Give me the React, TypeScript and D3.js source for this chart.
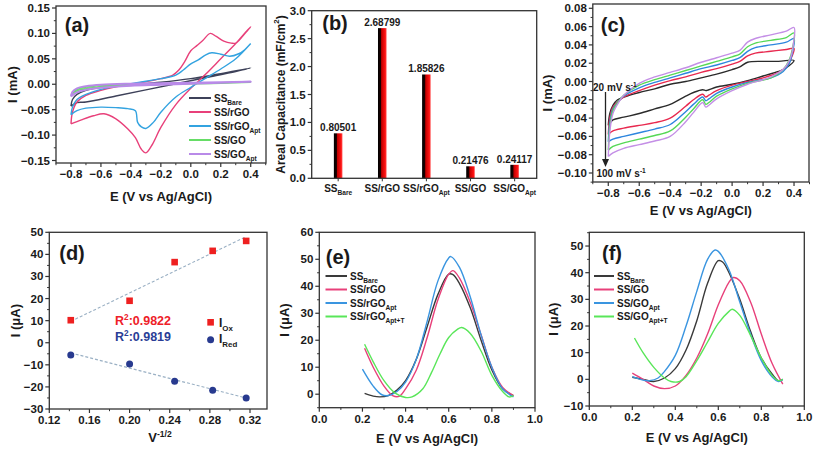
import React from "react";
import * as d3 from "d3";

type Pt = [number, number];
const FONT = "'Liberation Sans', Arial, Helvetica, sans-serif";
const INK = "#1a1a1a";
const BOX = "#333";

// ---------------- Panel (a) : CV of the five electrodes ----------------
const aSeries = ["SS_Bare", "SS/rGO", "SS/rGO_Apt", "SS/GO", "SS/GO_Apt"];
const aColors = ["#3d4159", "#e8407a", "#33a3e0", "#66dd66", "#b98ae8"];
const aBare: Pt[] = [[-0.8,-0.043],[-0.79,-0.03],[-0.76,-0.02],[-0.7,-0.012],[-0.6,-0.006],[-0.4,-0.001],[-0.2,0.004],[0.0,0.011],[0.2,0.021],[0.4,0.032],[0.3,0.025],[0.1,0.013],[-0.1,0.001],[-0.3,-0.011],[-0.5,-0.023],[-0.7,-0.035],[-0.76,-0.036],[-0.8,-0.043]];
const aRGO: Pt[] = [[-0.8,-0.078],[-0.79,-0.055],[-0.76,-0.035],[-0.7,-0.022],[-0.6,-0.012],[-0.5,-0.005],[-0.4,0.0],[-0.3,0.005],[-0.2,0.011],[-0.12,0.018],[-0.08,0.028],[-0.04,0.045],[0.0,0.066],[0.04,0.076],[0.08,0.086],[0.13,0.1],[0.17,0.094],[0.22,0.085],[0.27,0.081],[0.3,0.081],[0.35,0.096],[0.4,0.113],[0.35,0.097],[0.3,0.08],[0.2,0.05],[0.1,0.02],[0.0,-0.008],[-0.1,-0.04],[-0.2,-0.085],[-0.26,-0.12],[-0.3,-0.135],[-0.33,-0.128],[-0.37,-0.105],[-0.42,-0.088],[-0.5,-0.068],[-0.58,-0.058],[-0.65,-0.062],[-0.73,-0.07],[-0.8,-0.078]];
const aRGOApt: Pt[] = [[-0.8,-0.06],[-0.79,-0.045],[-0.76,-0.03],[-0.7,-0.02],[-0.6,-0.01],[-0.5,-0.004],[-0.4,0.001],[-0.3,0.006],[-0.2,0.011],[-0.1,0.018],[-0.05,0.028],[0.0,0.04],[0.05,0.048],[0.1,0.058],[0.14,0.062],[0.2,0.059],[0.26,0.055],[0.32,0.06],[0.36,0.068],[0.4,0.08],[0.3,0.05],[0.2,0.03],[0.1,0.012],[0.0,-0.006],[-0.1,-0.025],[-0.2,-0.055],[-0.25,-0.075],[-0.3,-0.087],[-0.33,-0.084],[-0.355,-0.075],[-0.37,-0.052],[-0.42,-0.048],[-0.5,-0.046],[-0.6,-0.045],[-0.7,-0.047],[-0.76,-0.052],[-0.8,-0.06]];
const aGO: Pt[] = [[-0.8,-0.022],[-0.78,-0.016],[-0.74,-0.011],[-0.65,-0.007],[-0.5,-0.004],[-0.3,-0.001],[0.0,0.001],[0.2,0.002],[0.4,0.004],[0.2,0.003],[0.0,0.002],[-0.3,0.0],[-0.5,-0.002],[-0.65,-0.004],[-0.74,-0.008],[-0.78,-0.013],[-0.8,-0.022]];
const aGOApt: Pt[] = [[-0.8,-0.024],[-0.79,-0.015],[-0.76,-0.008],[-0.7,-0.004],[-0.6,-0.001],[-0.4,0.001],[-0.2,0.002],[0.0,0.003],[0.2,0.004],[0.4,0.005],[0.2,0.003],[0.0,0.001],[-0.2,-0.001],[-0.4,-0.003],[-0.6,-0.007],[-0.7,-0.011],[-0.76,-0.016],[-0.8,-0.024]];
const aCurves = [aBare, aRGO, aRGOApt, aGO, aGOApt];
const aXTicks = [-0.8, -0.6, -0.4, -0.2, 0.0, 0.2, 0.4];
const aYTicks = [-0.15, -0.1, -0.05, 0.0, 0.05, 0.1, 0.15];

// ---------------- Panel (b) : areal capacitance ----------------
const bCategories = ["SS_Bare", "SS/rGO", "SS/rGO_Apt", "SS/GO", "SS/GO_Apt"];
const bValues = [0.80501, 2.68799, 1.85826, 0.21476, 0.24117];
const bValueLabels = ["0.80501", "2.68799", "1.85826", "0.21476", "0.24117"];
const bYTicks = [0.0, 0.5, 1.0, 1.5, 2.0, 2.5, 3.0];

// ---------------- Panel (c) : CV at scan rates ----------------
const cRates = ["20", "40", "60", "80", "100"];
const cColors = ["#2b2b2b", "#e8294f", "#2e86de", "#55d855", "#c48fe6"];
const c20: Pt[] = [[-0.8,-0.048],[-0.79,-0.035],[-0.77,-0.026],[-0.74,-0.02],[-0.7,-0.017],[-0.6,-0.012],[-0.5,-0.008],[-0.4,-0.003],[-0.3,0.0],[-0.2,0.004],[-0.1,0.008],[0.0,0.013],[0.05,0.016],[0.1,0.021],[0.2,0.022],[0.3,0.022],[0.4,0.023],[0.35,0.015],[0.3,0.011],[0.2,0.006],[0.1,0.001],[0.0,-0.003],[-0.1,-0.006],[-0.15,-0.009],[-0.17,-0.01],[-0.19,-0.009],[-0.25,-0.012],[-0.3,-0.016],[-0.4,-0.025],[-0.5,-0.03],[-0.6,-0.035],[-0.7,-0.039],[-0.77,-0.042],[-0.8,-0.048]];
const c40: Pt[] = [[-0.8,-0.058],[-0.79,-0.04],[-0.77,-0.028],[-0.73,-0.021],[-0.7,-0.017],[-0.6,-0.01],[-0.5,-0.004],[-0.4,0.001],[-0.3,0.005],[-0.2,0.01],[-0.1,0.014],[0.0,0.019],[0.05,0.022],[0.1,0.028],[0.15,0.031],[0.25,0.033],[0.35,0.035],[0.4,0.036],[0.38,0.025],[0.35,0.016],[0.3,0.01],[0.2,0.004],[0.1,0.0],[0.0,-0.004],[-0.1,-0.01],[-0.15,-0.015],[-0.17,-0.017],[-0.19,-0.014],[-0.25,-0.02],[-0.3,-0.027],[-0.4,-0.04],[-0.5,-0.045],[-0.6,-0.048],[-0.7,-0.051],[-0.77,-0.054],[-0.8,-0.058]];
const c60: Pt[] = [[-0.8,-0.066],[-0.79,-0.045],[-0.77,-0.03],[-0.73,-0.021],[-0.7,-0.016],[-0.6,-0.007],[-0.5,-0.001],[-0.4,0.004],[-0.3,0.009],[-0.2,0.014],[-0.1,0.018],[0.0,0.023],[0.05,0.026],[0.1,0.033],[0.15,0.037],[0.25,0.04],[0.35,0.043],[0.4,0.047],[0.39,0.032],[0.37,0.02],[0.33,0.011],[0.25,0.004],[0.1,-0.001],[0.0,-0.006],[-0.1,-0.013],[-0.15,-0.019],[-0.17,-0.021],[-0.19,-0.017],[-0.25,-0.025],[-0.3,-0.033],[-0.4,-0.047],[-0.5,-0.052],[-0.6,-0.056],[-0.7,-0.06],[-0.77,-0.063],[-0.8,-0.066]];
const c80: Pt[] = [[-0.8,-0.075],[-0.79,-0.05],[-0.77,-0.032],[-0.73,-0.021],[-0.7,-0.015],[-0.6,-0.004],[-0.5,0.002],[-0.4,0.007],[-0.3,0.012],[-0.2,0.017],[-0.1,0.022],[0.0,0.027],[0.05,0.03],[0.1,0.038],[0.15,0.042],[0.25,0.045],[0.35,0.048],[0.4,0.053],[0.39,0.036],[0.37,0.024],[0.33,0.013],[0.25,0.004],[0.1,-0.002],[0.0,-0.008],[-0.1,-0.016],[-0.15,-0.023],[-0.17,-0.025],[-0.19,-0.02],[-0.25,-0.03],[-0.3,-0.039],[-0.4,-0.054],[-0.5,-0.059],[-0.6,-0.063],[-0.7,-0.067],[-0.77,-0.071],[-0.8,-0.075]];
const c100: Pt[] = [[-0.8,-0.082],[-0.79,-0.055],[-0.77,-0.035],[-0.73,-0.022],[-0.7,-0.015],[-0.6,-0.002],[-0.5,0.005],[-0.4,0.01],[-0.3,0.015],[-0.2,0.021],[-0.1,0.026],[0.0,0.031],[0.05,0.034],[0.1,0.043],[0.15,0.047],[0.25,0.051],[0.35,0.055],[0.4,0.059],[0.395,0.04],[0.38,0.027],[0.34,0.015],[0.25,0.005],[0.1,-0.003],[0.0,-0.01],[-0.1,-0.019],[-0.15,-0.026],[-0.17,-0.028],[-0.19,-0.023],[-0.25,-0.034],[-0.3,-0.044],[-0.4,-0.06],[-0.5,-0.065],[-0.6,-0.069],[-0.7,-0.073],[-0.77,-0.078],[-0.8,-0.082]];
const cCurves = [c20, c40, c60, c80, c100];
const cXTicks = [-0.8, -0.6, -0.4, -0.2, 0.0, 0.2, 0.4];
const cYTicks = [-0.1, -0.08, -0.06, -0.04, -0.02, 0.0, 0.02, 0.04, 0.06, 0.08];

// ---------------- Panel (d) : peak current vs v^-1/2 ----------------
const dX = [0.1414, 0.2, 0.2449, 0.2828, 0.3162];
const dIox = [10.2, 19.0, 36.5, 41.6, 46.1];
const dIred = [-5.5, -9.6, -17.4, -21.5, -25.0];
const dR2 = ["0.9822", "0.9819"];
const dXTicks = [0.12, 0.16, 0.2, 0.24, 0.28, 0.32];
const dYTicks = [-30, -20, -10, 0, 10, 20, 30, 40, 50];

// ---------------- Panel (e) : DPV rGO ----------------
const eSeries = ["SS_Bare", "SS/rGO", "SS/rGO_Apt", "SS/rGO_Apt+T"];
const dpvColors = ["#3a3a3a", "#e8407a", "#3a95e0", "#59e659"];
const eBare: Pt[] = [[0.21,0.3],[0.25,-0.7],[0.28,-1.0],[0.32,-0.5],[0.36,1.5],[0.4,5],[0.45,13],[0.5,25],[0.55,37],[0.6,44.5],[0.62,44.3],[0.65,41],[0.7,32],[0.75,20],[0.8,9],[0.85,2],[0.9,-0.5]];
const eRGO: Pt[] = [[0.21,17],[0.25,10],[0.3,3],[0.34,-0.5],[0.37,-0.8],[0.4,2],[0.45,9],[0.5,21],[0.55,35],[0.6,44.5],[0.62,45.8],[0.65,43],[0.7,34],[0.75,22],[0.8,10],[0.85,2.5],[0.9,-0.5]];
const eRGOApt: Pt[] = [[0.2,9.3],[0.25,3],[0.29,-0.2],[0.32,-0.5],[0.36,1],[0.4,4.5],[0.45,13],[0.5,27],[0.55,42],[0.6,50.5],[0.61,51],[0.65,47],[0.7,36],[0.75,22],[0.8,10],[0.85,2],[0.9,-1]];
const eRGOAptT: Pt[] = [[0.21,18.5],[0.25,12],[0.3,5],[0.35,0.5],[0.4,-1.2],[0.43,-1],[0.48,2],[0.52,8],[0.56,15],[0.6,21],[0.64,24],[0.66,24.7],[0.7,22.5],[0.75,16],[0.8,7],[0.85,1],[0.88,-1],[0.9,-0.5]];
const eCurves = [eBare, eRGO, eRGOApt, eRGOAptT];
const eYTicks = [0, 10, 20, 30, 40, 50, 60];

// ---------------- Panel (f) : DPV GO ----------------
const fSeries = ["SS_Bare", "SS/GO", "SS/GO_Apt", "SS/GO_Apt+T"];
const fBare: Pt[] = [[0.2,0.8],[0.25,0],[0.3,-0.8],[0.35,0.5],[0.4,4],[0.45,11],[0.5,22],[0.55,36],[0.6,44.5],[0.62,44],[0.65,40],[0.7,30],[0.75,18],[0.8,8],[0.85,2],[0.88,-0.5],[0.9,0]];
const fGO: Pt[] = [[0.2,2.3],[0.25,0],[0.3,-2.5],[0.35,-3.5],[0.4,-2.5],[0.45,1.5],[0.5,8],[0.55,17],[0.6,28],[0.65,36.5],[0.67,38.2],[0.7,37],[0.75,29],[0.8,17],[0.85,6],[0.9,-1.8]];
const fGOApt: Pt[] = [[0.2,1],[0.25,-0.3],[0.28,-0.5],[0.32,0.5],[0.35,3],[0.4,9],[0.45,20],[0.5,33],[0.55,45],[0.585,48.5],[0.6,48],[0.65,41],[0.7,29],[0.75,17],[0.8,7],[0.85,1],[0.88,-0.8],[0.9,0]];
const fGOAptT: Pt[] = [[0.21,15.5],[0.25,10],[0.3,4.5],[0.35,0.5],[0.38,-0.8],[0.42,-0.8],[0.45,1],[0.5,7],[0.55,14],[0.6,21],[0.65,25.5],[0.665,26.3],[0.7,24],[0.75,16.5],[0.8,8],[0.85,1.5],[0.88,-0.5],[0.9,0]];
const fCurves = [fBare, fGO, fGOApt, fGOAptT];
const fYTicks = [-10, 0, 10, 20, 30, 40, 50];
const dpvXTicks = [0.0, 0.2, 0.4, 0.6, 0.8, 1.0];

// ---------------- helpers ----------------
type Part = { t: string; s?: "sub" | "sup" };
function parse(label: string): Part[] {
  const i = label.indexOf("_");
  if (i < 0) return [{ t: label }];
  return [{ t: label.slice(0, i) }, { t: label.slice(i + 1), s: "sub" }];
}

function Rich(props: { x: number; y: number; parts: Part[]; size: number; anchor?: string; fill?: string; rotate?: boolean; baseline?: string }) {
  const { x, y, parts, size, anchor = "start", fill = INK, rotate = false, baseline } = props;
  let shift = 0;
  const spans = parts.map((p, i) => {
    const target = p.s === "sub" ? size * 0.3 : p.s === "sup" ? -size * 0.42 : 0;
    const dy = target - shift;
    shift = target;
    return (
      <tspan key={i} dy={dy} fontSize={p.s ? size * 0.66 : size}>
        {p.t}
      </tspan>
    );
  });
  return (
    <text x={x} y={y} fontSize={size} fontWeight="bold" fill={fill} textAnchor={anchor as any} dominantBaseline={baseline as any} fontFamily={FONT} transform={rotate ? `rotate(-90 ${x} ${y})` : undefined}>
      {spans}
    </text>
  );
}

interface Frame {
  x0: number; x1: number; y0: number; y1: number;
  xs: d3.ScaleLinear<number, number>;
  ys: d3.ScaleLinear<number, number>;
  xTicks: number[]; yTicks: number[];
  xFmt: (v: number) => string; yFmt: (v: number) => string;
  noXTicks?: boolean;
}

function minors(ticks: number[]): number[] {
  const out: number[] = [];
  const step = ticks[1] - ticks[0];
  out.push(ticks[0] - step / 2);
  d3.pairs(ticks).forEach(([a, b]) => out.push((a + b) / 2));
  out.push(ticks[ticks.length - 1] + step / 2);
  return out;
}

const TICK_FS = 11.5;

function Axes({ f }: { f: Frame }) {
  const yMin = minors(f.yTicks).filter((v) => f.ys(v) >= f.y0 - 0.5 && f.ys(v) <= f.y1 + 0.5);
  const xMin = minors(f.xTicks).filter((v) => f.xs(v) >= f.x0 - 0.5 && f.xs(v) <= f.x1 + 0.5);
  return (
    <g fontFamily={FONT}>
      <rect x={f.x0} y={f.y0} width={f.x1 - f.x0} height={f.y1 - f.y0} fill="none" stroke={BOX} strokeWidth={1.3} />
      {f.yTicks.map((v) => (
        <line key={"yt" + v} x1={f.x0} x2={f.x0 - 4} y1={f.ys(v)} y2={f.ys(v)} stroke={BOX} strokeWidth={1.2} />
      ))}
      {yMin.map((v) => (
        <line key={"ym" + v} x1={f.x0} x2={f.x0 - 2.2} y1={f.ys(v)} y2={f.ys(v)} stroke={BOX} strokeWidth={1} />
      ))}
      {f.yTicks.map((v) => (
        <text key={"yl" + v} x={f.x0 - 6} y={f.ys(v)} textAnchor="end" dominantBaseline="central" fontSize={TICK_FS} fontWeight="bold" fill={INK}>
          {f.yFmt(v)}
        </text>
      ))}
      {!f.noXTicks &&
        f.xTicks.map((v) => (
          <line key={"xt" + v} x1={f.xs(v)} x2={f.xs(v)} y1={f.y1} y2={f.y1 + 4} stroke={BOX} strokeWidth={1.2} />
        ))}
      {!f.noXTicks &&
        xMin.map((v) => (
          <line key={"xm" + v} x1={f.xs(v)} x2={f.xs(v)} y1={f.y1} y2={f.y1 + 2.2} stroke={BOX} strokeWidth={1} />
        ))}
      {!f.noXTicks &&
        f.xTicks.map((v) => (
          <text key={"xl" + v} x={f.xs(v)} y={f.y1 + 15} textAnchor="middle" fontSize={TICK_FS} fontWeight="bold" fill={INK}>
            {f.xFmt(v)}
          </text>
        ))}
    </g>
  );
}

function lineGen(xs: d3.ScaleLinear<number, number>, ys: d3.ScaleLinear<number, number>) {
  return d3
    .line<Pt>()
    .x((d) => xs(d[0]))
    .y((d) => ys(d[1]))
    .curve(d3.curveCatmullRom.alpha(0.5));
}

function linFit(xv: number[], yv: number[]): Pt[] {
  const mx = d3.mean(xv)!;
  const my = d3.mean(yv)!;
  const sxy = d3.sum(xv.map((x, i) => (x - mx) * (yv[i] - my)));
  const sxx = d3.sum(xv.map((x) => (x - mx) ** 2));
  const k = sxy / sxx;
  const b = my - k * mx;
  const lo = d3.min(xv)!;
  const hi = d3.max(xv)!;
  return [[lo, k * lo + b], [hi, k * hi + b]];
}

const f2 = (v: number) => d3.format(".2f")(v);
const f1 = (v: number) => d3.format(".1f")(v);
const f0 = (v: number) => d3.format("d")(v);

export default function App() {
  const A: Frame = { x0: 56, x1: 266, y0: 6, y1: 163, xs: d3.scaleLinear().domain([-0.9, 0.5]).range([56, 265.7]), ys: d3.scaleLinear().domain([-0.15, 0.15]).range([160.5, 8]), xTicks: aXTicks, yTicks: aYTicks, xFmt: f1, yFmt: f2 };
  const B: Frame = { x0: 311.7, x1: 536.7, y0: 10.7, y1: 178.3, xs: d3.scaleLinear().domain([0.4, 5.5]).range([311.7, 536.7]), ys: d3.scaleLinear().domain([0, 3]).range([178.3, 10.7]), xTicks: [1, 2, 3, 4, 5], yTicks: bYTicks, xFmt: f0, yFmt: f1, noXTicks: true };
  const C: Frame = { x0: 592.8, x1: 809, y0: 4, y1: 182, xs: d3.scaleLinear().domain([-0.9, 0.5]).range([592.8, 809.5]), ys: d3.scaleLinear().domain([-0.1, 0.08]).range([173, 8.3]), xTicks: cXTicks, yTicks: cYTicks, xFmt: f1, yFmt: f2 };
  const D: Frame = { x0: 49.3, x1: 267, y0: 232.3, y1: 409, xs: d3.scaleLinear().domain([0.12, 0.32]).range([49.3, 250]), ys: d3.scaleLinear().domain([-30, 50]).range([409, 232.3]), xTicks: dXTicks, yTicks: dYTicks, xFmt: f2, yFmt: f0 };
  const E: Frame = { x0: 319.3, x1: 535, y0: 232.3, y1: 407.7, xs: d3.scaleLinear().domain([0, 1]).range([319.3, 535]), ys: d3.scaleLinear().domain([-5, 60]).range([407.7, 232.3]), xTicks: dpvXTicks, yTicks: eYTicks, xFmt: f1, yFmt: f0 };
  const F: Frame = { x0: 589.3, x1: 804.3, y0: 232.3, y1: 406, xs: d3.scaleLinear().domain([0, 1]).range([589.3, 804.3]), ys: d3.scaleLinear().domain([-10, 55]).range([406, 232.7]), xTicks: dpvXTicks, yTicks: fYTicks, xFmt: f1, yFmt: f0 };

  const la = lineGen(A.xs, A.ys);
  const lc = lineGen(C.xs, C.ys);
  const le = lineGen(E.xs, E.ys);
  const lf = lineGen(F.xs, F.ys);
  const ld = d3.line<Pt>().x((d) => D.xs(d[0])).y((d) => D.ys(d[1]));

  const fitOx = linFit(dX, dIox);
  const fitRed = linFit(dX, dIred);

  const barW = 8.6;
  const aLegendY = [98, 112, 126, 140, 154];
  const dpvLegendY = [276, 289.5, 303, 316.5];

  return (
    <svg width={813} height={450} style={{ position: "absolute", left: 0, top: 0, background: "#fff" }} fontFamily={FONT}>
      <defs>
        <linearGradient id="barGrad" x1="0" x2="1" y1="0" y2="0">
          <stop offset="0" stopColor="#000" />
          <stop offset="0.3" stopColor="#1a0000" />
          <stop offset="0.42" stopColor="#c40000" />
          <stop offset="0.85" stopColor="#ff1414" />
          <stop offset="1" stopColor="#ff6a6a" />
        </linearGradient>
        <clipPath id="clipA"><rect x={A.x0} y={A.y0} width={A.x1 - A.x0} height={A.y1 - A.y0} /></clipPath>
        <clipPath id="clipC"><rect x={C.x0} y={C.y0} width={C.x1 - C.x0} height={C.y1 - C.y0} /></clipPath>
      </defs>
      <rect x={0} y={0} width={813} height={450} fill="#fff" />

      {/* ---------- (a) ---------- */}
      <g clipPath="url(#clipA)">
        {aCurves.map((c, i) => (
          <path key={i} d={la(c) || ""} fill="none" stroke={aColors[i]} strokeWidth={i === 4 ? 2 : 1.4} />
        ))}
      </g>
      <Axes f={A} />
      <text x={77} y={25} fontSize={20} fontWeight="bold" textAnchor="middle" dominantBaseline="central" fill={INK}>(a)</text>
      {aSeries.map((s, i) => (
        <g key={s}>
          <line x1={189} x2={211} y1={aLegendY[i]} y2={aLegendY[i]} stroke={aColors[i]} strokeWidth={2} />
          <Rich x={214} y={aLegendY[i] + 3.6} parts={parse(s)} size={10} />
        </g>
      ))}
      <Rich x={12} y={(A.y0 + A.y1) / 2} parts={[{ t: "I (mA)" }]} size={13} anchor="middle" rotate baseline="central" />
      <Rich x={(A.x0 + A.x1) / 2} y={200.5} parts={[{ t: "E (V vs Ag/AgCl)" }]} size={13} anchor="middle" />

      {/* ---------- (b) ---------- */}
      {bValues.map((v, i) => (
        <rect key={i} x={B.xs(i + 1) - barW / 2} y={B.ys(v)} width={barW} height={B.ys(0) - B.ys(v)} fill="url(#barGrad)" />
      ))}
      <Axes f={B} />
      {bValues.map((v, i) => (
        <text key={"bl" + i} x={B.xs(i + 1)} y={B.ys(v) - 2} textAnchor="middle" fontSize={10} fontWeight="bold" fill={INK}>
          {bValueLabels[i]}
        </text>
      ))}
      {bCategories.map((c, i) => (
        <g key={"bc" + i}>
          <line x1={B.xs(i + 1)} x2={B.xs(i + 1)} y1={B.y1} y2={B.y1 + 3} stroke={BOX} strokeWidth={1} />
          <Rich x={B.xs(i + 1)} y={B.y1 + 14} parts={parse(c)} size={10} anchor="middle" />
        </g>
      ))}
      <text x={335} y={23} fontSize={20} fontWeight="bold" textAnchor="middle" dominantBaseline="central" fill={INK}>(b)</text>
      <Rich x={281} y={(B.y0 + B.y1) / 2} parts={[{ t: "Areal Capacitance (mF/cm" }, { t: "2", s: "sup" }, { t: ")" }]} size={12} anchor="middle" rotate baseline="central" />

      {/* ---------- (c) ---------- */}
      <g clipPath="url(#clipC)">
        {cCurves.map((c, i) => (
          <path key={i} d={lc(c) || ""} fill="none" stroke={cColors[i]} strokeWidth={1.4} />
        ))}
      </g>
      <Axes f={C} />
      <text x={613} y={25} fontSize={20} fontWeight="bold" textAnchor="middle" dominantBaseline="central" fill={INK}>(c)</text>
      <line x1={605.5} x2={605.5} y1={92} y2={160} stroke="#222" strokeWidth={1.3} />
      <path d="M602,159 L609,159 L605.5,167 Z" fill="#222" />
      <Rich x={593} y={91} parts={[{ t: cRates[0] + " mV s" }, { t: "-1", s: "sup" }]} size={10} />
      <Rich x={596.5} y={177} parts={[{ t: cRates[4] + " mV s" }, { t: "-1", s: "sup" }]} size={10} />
      <Rich x={547} y={(C.y0 + C.y1) / 2} parts={[{ t: "I (mA)" }]} size={13} anchor="middle" rotate baseline="central" />
      <Rich x={(C.x0 + C.x1) / 2} y={C.y1 + 33} parts={[{ t: "E (V vs Ag/AgCl)" }]} size={13} anchor="middle" />

      {/* ---------- (d) ---------- */}
      <path d={ld(fitOx) || ""} stroke="#9ab0c4" strokeWidth={1.1} strokeDasharray="3,2" fill="none" />
      <path d={ld(fitRed) || ""} stroke="#9ab0c4" strokeWidth={1.1} strokeDasharray="3,2" fill="none" />
      {dX.map((x, i) => (
        <rect key={"ox" + i} x={D.xs(x) - 3.3} y={D.ys(dIox[i]) - 3.3} width={6.6} height={6.6} fill="#ee2020" />
      ))}
      {dX.map((x, i) => (
        <circle key={"rd" + i} cx={D.xs(x)} cy={D.ys(dIred[i])} r={3.5} fill="#283a8f" />
      ))}
      <Axes f={D} />
      <text x={72} y={253} fontSize={20} fontWeight="bold" textAnchor="middle" dominantBaseline="central" fill={INK}>(d)</text>
      <Rich x={115} y={325} parts={[{ t: "R" }, { t: "2", s: "sup" }, { t: ":" + dR2[0] }]} size={12.5} fill="#ee2028" />
      <Rich x={115} y={341} parts={[{ t: "R" }, { t: "2", s: "sup" }, { t: ":" + dR2[1] }]} size={12.5} fill="#2a3d96" />
      <rect x={207.3} y={319} width={6.6} height={6.6} fill="#ee2020" />
      <Rich x={219} y={327} parts={[{ t: "I" }, { t: "Ox", s: "sub" }]} size={12} />
      <circle cx={210.6} cy={339.7} r={3.5} fill="#283a8f" />
      <Rich x={219} y={343} parts={[{ t: "I" }, { t: "Red", s: "sub" }]} size={12} />
      <Rich x={15} y={(D.y0 + D.y1) / 2} parts={[{ t: "I (μA)" }]} size={13} anchor="middle" rotate baseline="central" />
      <Rich x={160} y={442} parts={[{ t: "V" }, { t: "-1/2", s: "sup" }]} size={13} anchor="middle" />

      {/* ---------- (e) ---------- */}
      {eCurves.map((c, i) => (
        <path key={"e" + i} d={le(c) || ""} fill="none" stroke={dpvColors[i]} strokeWidth={1.4} />
      ))}
      <Axes f={E} />
      <text x={338} y={257} fontSize={20} fontWeight="bold" textAnchor="middle" dominantBaseline="central" fill={INK}>(e)</text>
      {eSeries.map((s, i) => (
        <g key={"el" + i}>
          <line x1={325.5} x2={347} y1={dpvLegendY[i]} y2={dpvLegendY[i]} stroke={dpvColors[i]} strokeWidth={2} />
          <Rich x={350} y={dpvLegendY[i] + 3.5} parts={parse(s)} size={10} />
        </g>
      ))}
      <Rich x={284} y={(E.y0 + E.y1) / 2} parts={[{ t: "I (μA)" }]} size={13} anchor="middle" rotate baseline="central" />
      <Rich x={(E.x0 + E.x1) / 2} y={443} parts={[{ t: "E (V vs Ag/AgCl)" }]} size={13} anchor="middle" />

      {/* ---------- (f) ---------- */}
      {fCurves.map((c, i) => (
        <path key={"f" + i} d={lf(c) || ""} fill="none" stroke={dpvColors[i]} strokeWidth={1.4} />
      ))}
      <Axes f={F} />
      <text x={612} y={253} fontSize={20} fontWeight="bold" textAnchor="middle" dominantBaseline="central" fill={INK}>(f)</text>
      {fSeries.map((s, i) => (
        <g key={"fl" + i}>
          <line x1={594} x2={614} y1={dpvLegendY[i]} y2={dpvLegendY[i]} stroke={dpvColors[i]} strokeWidth={2} />
          <Rich x={617} y={dpvLegendY[i] + 3.5} parts={parse(s)} size={10} />
        </g>
      ))}
      <Rich x={553} y={(F.y0 + F.y1) / 2} parts={[{ t: "I (μA)" }]} size={13} anchor="middle" rotate baseline="central" />
      <Rich x={(F.x0 + F.x1) / 2} y={442} parts={[{ t: "E (V vs Ag/AgCl)" }]} size={13} anchor="middle" />
    </svg>
  );
}
